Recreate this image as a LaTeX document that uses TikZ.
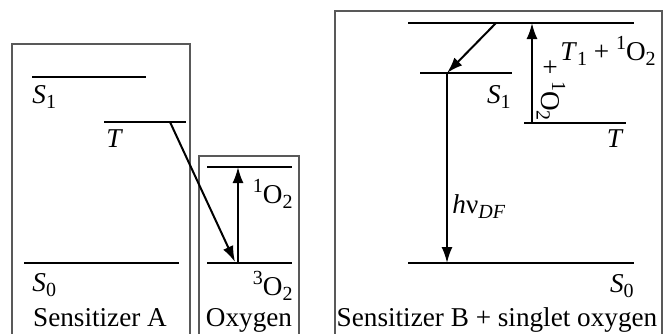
\documentclass[tikz,border=0pt]{standalone}
\usepackage{fontspec}
\setmainfont{Liberation Serif}
\usetikzlibrary{arrows.meta}
\newcommand{\levsub}[1]{\raisebox{-2.6pt}{\fontsize{10}{12}\selectfont #1}}
\newcommand{\levsup}[1]{\raisebox{5.2pt}{\fontsize{10}{12}\selectfont #1}}

\begin{document}
\begin{tikzpicture}[x=0.5pt, y=-0.5pt,
  box/.style={draw=black!65, line width=0.6pt},
  lvl/.style={line width=1.3pt},
  arr/.style={-{Latex[length=8pt,width=5.5pt]}, line width=1pt},
  lbl/.style={inner sep=0pt, font=\fontsize{13.6}{16}\selectfont}
]
  \useasboundingbox (0,0) rectangle (667,333);

  % frames, open at the bottom
  \draw[box] (12,340) -- (12,44) -- (190,44) -- (190,340);
  \draw[box] (199,340) -- (199,156) -- (299,156) -- (299,340);
  \draw[box] (335,340) -- (335,11) -- (662,11) -- (662,340);

  % sensitizer A
  \draw[lvl] (32,77) -- (146,77);
  \draw[lvl] (104,122) -- (186,122);
  \draw[lvl] (24,263) -- (179,263);
  \coordinate (aT) at (170,122);
  \node[lbl, anchor=base west] (aS1l) at (32,103) {\textit{S}\levsub{1}};
  \node[lbl, anchor=base west] (aTl) at (106,147) {\textit{T}};
  \node[lbl, anchor=base west] (aS0l) at (32,291) {\textit{S}\levsub{0}};
  \node[lbl, anchor=base] (aname) at (100,326) {Sensitizer A};

  % oxygen
  \draw[lvl] (207,167) -- (292,167);
  \draw[lvl] (207,263) -- (292,263);
  \coordinate (oxup) at (238,167);
  \coordinate (oxlo) at (238,263);
  \coordinate (oxin) at (235,262);
  \node[lbl, anchor=base east] (ox1l) at (293,203) {\levsup{1}O\levsub{2}};
  \node[lbl, anchor=base east] (ox3l) at (293,295) {\levsup{3}O\levsub{2}};
  \node[lbl, anchor=base] (oxname) at (249,326) {Oxygen};

  % sensitizer B + singlet oxygen
  \draw[lvl] (408,23) -- (634,23);
  \draw[lvl] (420,73) -- (512,73);
  \draw[lvl] (524,123) -- (626,123);
  \draw[lvl] (408,263) -- (634,263);
  \coordinate (bTop) at (496,23);
  \coordinate (bS1) at (447,73);
  \coordinate (bS0) at (447,263);
  \coordinate (bTlo) at (532,123);
  \coordinate (bThi) at (532,23);
  \node[lbl, anchor=base east] (bS1l) at (511,103) {\textit{S}\levsub{1}};
  \node[lbl, anchor=base east] (bTl) at (624,147) {\textit{T}};
  \node[lbl, anchor=base east] (bS0l) at (634,292) {\textit{S}\levsub{0}};
  \node[lbl, anchor=base west] (hnul) at (452,213) {\textit{h}ν\levsub{\textit{DF}}};
  \node[lbl, anchor=base west] (bT1l) at (560,60) {\textit{T}\levsub{1} + \levsup{1}O\levsub{2}};
  \node[lbl, rotate=-90] (bplus) at (551,90) {+ \levsup{1}O\levsub{2}};
  \node[lbl, anchor=base] (bname) at (497,326) {Sensitizer B + singlet oxygen};

  % transitions
  \draw[arr] (aT) -- (oxin);
  \draw[arr] (oxlo) -- (oxup);
  \draw[arr] (bTop) -- (bS1);
  \draw[arr] (bS1) -- (bS0);
  \draw[arr] (bTlo) -- (bThi);
\end{tikzpicture}
\end{document}
